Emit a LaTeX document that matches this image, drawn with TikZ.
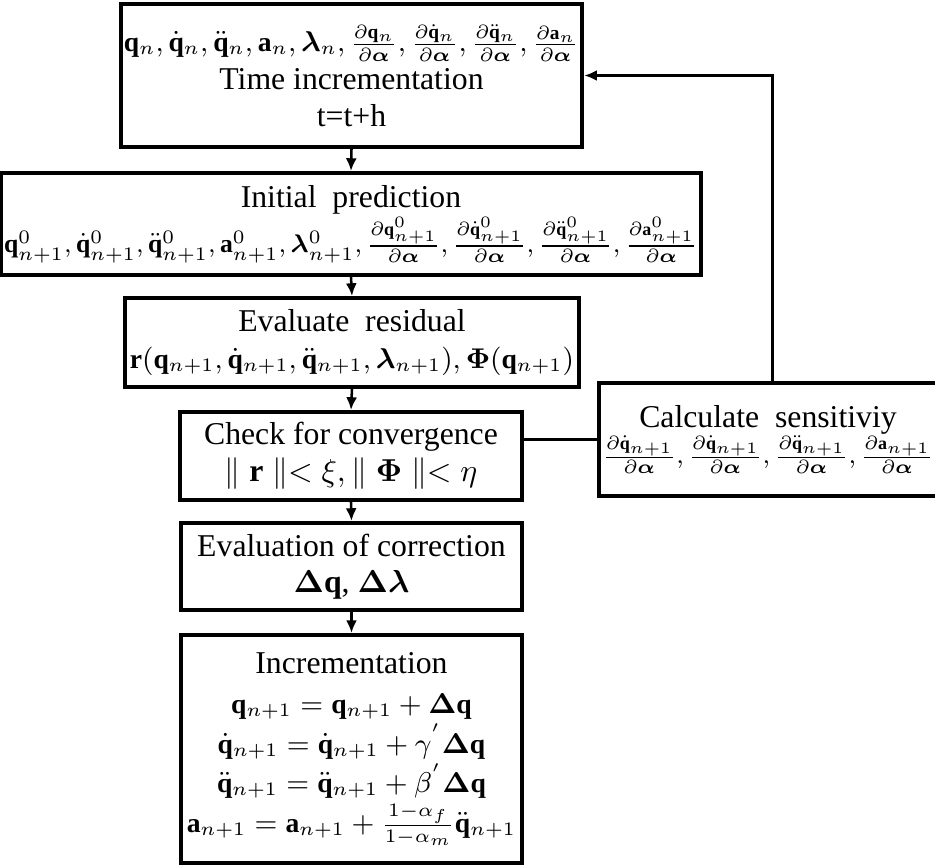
\documentclass[tikz,border=0pt]{standalone}
\usepackage{amsmath,amssymb,bm}
\usepackage{fontspec}
\setmainfont{Liberation Serif}
\usetikzlibrary{arrows.meta,positioning}
\newcommand{\vq}{\mathbf{q}}
\newcommand{\va}{\mathbf{a}}
\newcommand{\dal}{\partial\boldsymbol{\alpha}}
\newcommand{\mline}[1]{{\fontsize{8.7}{11}\selectfont$#1$}}
\newcommand{\sline}[1]{{\fontsize{8.1}{11}\selectfont$#1$}}

\begin{document}
\begin{tikzpicture}[
  x=0.315pt,y=-0.315pt,
  box/.style={draw,line width=1.3pt,align=center,inner sep=1pt,font=\fontsize{10}{11.5}\selectfont},
  arrow/.style={-{Latex[length=4pt,width=3.5pt]},line width=0.8pt},
  link/.style={line width=0.8pt}
]
\useasboundingbox (0,0) rectangle (935,865);
\node[box,minimum width=142.7pt,minimum height=45pt] (tinc) at (351.5,75.5) {\mline{\vq_n,\dot{\vq}_n,\ddot{\vq}_n,\va_n,\boldsymbol{\lambda}_n,\frac{\partial\vq_n}{\dal},\frac{\partial\dot{\vq}_n}{\dal},\frac{\partial\ddot{\vq}_n}{\dal},\frac{\partial\va_n}{\dal}}\\[0.5pt]Time incrementation\\t=t+h};
\node[box,minimum width=214.8pt,minimum height=32.1pt] (pred) at (351,224) {Initial~ prediction\\\sline{\vq^0_{n+1},\dot{\vq}^0_{n+1},\ddot{\vq}^0_{n+1},\va^0_{n+1},\boldsymbol{\lambda}^0_{n+1},\frac{\partial\vq^0_{n+1}}{\dal},\frac{\partial\dot{\vq}^0_{n+1}}{\dal},\frac{\partial\ddot{\vq}^0_{n+1}}{\dal},\frac{\partial\va^0_{n+1}}{\dal}}};
\node[box,minimum width=143pt,minimum height=28pt] (resid) at (352,342.5) {Evaluate~ residual\\\mline{\mathbf{r}(\vq_{n+1},\dot{\vq}_{n+1},\ddot{\vq}_{n+1},\boldsymbol{\lambda}_{n+1}),\boldsymbol{\Phi}(\vq_{n+1})}};
\node[box,minimum width=107.7pt,minimum height=27.7pt] (conv) at (351,456) {Check for convergence\\$\parallel\mathbf{r}\parallel<\xi,\parallel\boldsymbol{\Phi}\parallel<\eta$};
\node[box,minimum width=104pt,minimum height=35.6pt] (sens) at (768,439.5) {Calculate~ sensitiviy\\\sline{\frac{\partial\dot{\vq}_{n+1}}{\dal},\frac{\partial\dot{\vq}_{n+1}}{\dal},\frac{\partial\ddot{\vq}_{n+1}}{\dal},\frac{\partial\va_{n+1}}{\dal}}};
\node[box,minimum width=107.4pt,minimum height=27.4pt] (corr) at (351.5,566.5) {Evaluation of correction\\$\boldsymbol{\Delta}\vq$, $\boldsymbol{\Delta\lambda}$};
\node[box,minimum width=107.4pt,minimum height=71.8pt] (incr) at (351.5,749) {Incrementation\\[1pt]
  \mline{\vq_{n+1}=\vq_{n+1}+\boldsymbol{\Delta}\vq}\\[1pt]
  \mline{\dot{\vq}_{n+1}=\dot{\vq}_{n+1}+\gamma^{'}\boldsymbol{\Delta}\vq}\\[1pt]
  \mline{\ddot{\vq}_{n+1}=\ddot{\vq}_{n+1}+\beta^{'}\boldsymbol{\Delta}\vq}\\[1pt]
  \mline{\va_{n+1}=\va_{n+1}+\frac{1-\alpha_f}{1-\alpha_m}\ddot{\vq}_{n+1}}};

\draw[arrow] (tinc.south) -- (pred.north);
\draw[arrow] (pred.south) -- (resid.north);
\draw[arrow] (resid.south) -- (conv.north);
\draw[arrow] (conv.south) -- (corr.north);
\draw[arrow] (corr.south) -- (incr.north);
\draw[link] (conv.east |- sens.west) -- (sens.west);
\draw[arrow] ([xshift=1.5pt]sens.north) |- (tinc.east);
\end{tikzpicture}
\end{document}
